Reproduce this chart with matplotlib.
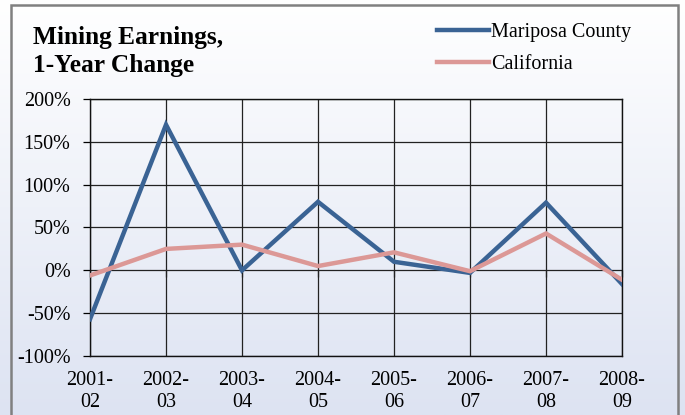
import numpy as np
import matplotlib
matplotlib.use("Agg")
import matplotlib.pyplot as plt
from matplotlib.patches import Rectangle
from matplotlib.ticker import FuncFormatter

# === Data ===
periods = ["2001-\n02", "2002-\n03", "2003-\n04", "2004-\n05",
           "2005-\n06", "2006-\n07", "2007-\n08", "2008-\n09"]
mariposa = [-57, 170, 0, 80, 10, -3, 79, -16]
california = [-6, 25, 30, 5, 21, -1, 43, -11]

blue = "#3a6394"
pink = "#dc9896"

plt.rcParams["font.family"] = ["Liberation Serif", "DejaVu Serif"]

fig = plt.figure(figsize=(6.85, 4.15), dpi=100)

# === Background gradient + frame ===
bg = fig.add_axes([0, 0, 1, 1], zorder=-2)
grad = np.linspace(0, 1, 256).reshape(-1, 1)
cmap = matplotlib.colors.LinearSegmentedColormap.from_list("bg", ["#ffffff", "#dde3f2"])
bg.imshow(grad, aspect="auto", cmap=cmap, extent=[0, 1, 0, 1], origin="upper")
bg.set_axis_off()
fig.patches.append(Rectangle((10.5 / 685, -0.05), 667.5 / 685, 1.05 - 5 / 415,
                             transform=fig.transFigure, fill=False,
                             edgecolor="#808080", linewidth=1.8, clip_on=False))

# === Plot area ===
ax = fig.add_axes([90 / 685, 59 / 415, 532 / 685, 257 / 415])
ax.patch.set_alpha(0)
x = np.arange(len(periods))
ax.plot(x, mariposa, color=blue, lw=3.2, solid_joinstyle="miter", label="Mariposa County", zorder=3)
ax.plot(x, california, color=pink, lw=3.2, solid_joinstyle="miter", label="California", zorder=4)

ax.set_xlim(0, len(periods) - 1)
ax.set_ylim(-100, 200)
ax.set_yticks(np.arange(-100, 201, 50))
ax.yaxis.set_major_formatter(FuncFormatter(lambda v, p: f"{v:.0f}%"))
ax.set_xticks(x)
ax.set_xticklabels(periods, linespacing=1.2)
ax.grid(True, color="#222222", lw=0.9)
ax.set_axisbelow(True)
for s in ax.spines.values():
    s.set_color("#111111")
    s.set_linewidth(1.0)
ax.tick_params(axis="y", length=5, width=0.9, labelsize=14.5, pad=9)
ax.tick_params(axis="x", length=0, labelsize=14.5, pad=11)

# category axis crosses at 0% with small tick marks
sec = ax.secondary_xaxis(1 / 3)
sec.set_xticks(x)
sec.set_xticklabels([])
sec.xaxis.set_ticks_position("bottom")
sec.tick_params(axis="x", direction="out", length=5, width=0.9, color="#111111")
sec.spines["bottom"].set_visible(False)
sec.spines["top"].set_visible(False)

# === Title and legend ===
fig.text(33 / 685, 1 - 26 / 415, "Mining Earnings,\n1-Year Change", ha="left", va="top",
         fontsize=18.3, fontweight="bold", linespacing=1.3)
fig.legend(loc="upper left", bbox_to_anchor=(437 / 685, 1 - 23 / 415), frameon=False,
           fontsize=14.5, handlelength=2.6, handletextpad=0.1, labelspacing=0.65,
           borderpad=0, borderaxespad=0)

fig.savefig("out.png", dpi=100)
